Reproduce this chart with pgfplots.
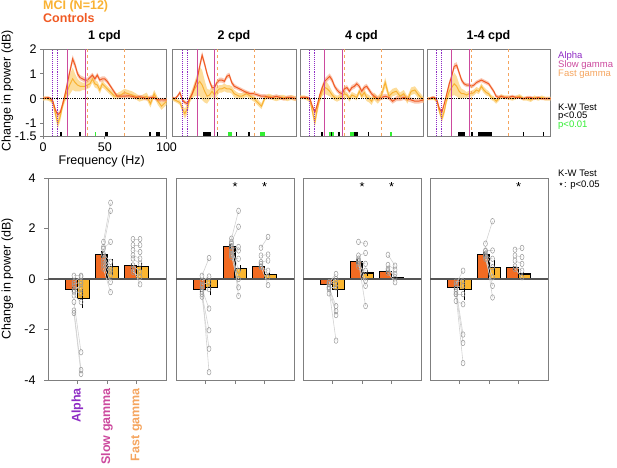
\documentclass[border=0pt]{standalone}
\usepackage{fontspec}
\setmainfont{Liberation Sans}
\newfontfamily\djv{DejaVu Sans}
\usepackage{pgfplots}
\pgfplotsset{compat=1.18}
\usepackage{pgfplotstable}
\usepgfplotslibrary{fillbetween}

\definecolor{ctrl}{HTML}{F05A24}
\definecolor{mci}{HTML}{F9B233}
\definecolor{ctrlband}{HTML}{F7A27E}
\definecolor{mciband}{HTML}{FCD27A}
\definecolor{ctrlbar}{HTML}{F26B22}
\definecolor{mcibar}{HTML}{FBB630}
\definecolor{cAlpha}{HTML}{8E2BC4}
\definecolor{cSlow}{HTML}{CC4A9E}
\definecolor{cFast}{HTML}{F5A55F}
\definecolor{sigg}{HTML}{33EE33}
\definecolor{axgray}{HTML}{7F7F7F}
\definecolor{zerol}{HTML}{555555}
\definecolor{pairl}{HTML}{D2D2D2}
\definecolor{circ}{HTML}{999999}

% frequency (Hz), controls mean, controls sem, MCI mean, MCI sem
\pgfplotstableread{
f c cs m ms
0 0.02 0.05 0.00 0.08
2 0.03 0.05 0.02 0.08
4 0.05 0.05 0.00 0.08
6 0.02 0.05 -0.05 0.08
8 -0.10 0.06 -0.15 0.10
10 -0.45 0.08 -0.60 0.15
12 -0.65 0.10 -1.00 0.20
14 -0.55 0.10 -0.70 0.20
16 -0.20 0.10 -0.25 0.15
18 0.20 0.12 0.10 0.20
20 0.70 0.15 0.35 0.30
22 1.15 0.15 0.60 0.40
24 1.60 0.15 0.80 0.45
26 1.35 0.15 0.65 0.35
28 1.00 0.12 0.55 0.25
30 0.85 0.10 0.50 0.20
32 0.80 0.10 0.50 0.15
34 0.75 0.10 0.50 0.15
36 0.75 0.10 0.55 0.15
38 0.85 0.10 0.60 0.15
40 0.95 0.10 0.80 0.15
42 0.80 0.10 0.60 0.15
44 0.95 0.10 0.55 0.15
46 0.75 0.10 0.35 0.15
48 0.80 0.10 0.60 0.15
50 0.80 0.10 0.50 0.12
52 0.70 0.10 0.40 0.12
54 0.55 0.08 0.30 0.12
56 0.40 0.08 0.20 0.12
58 0.25 0.08 0.10 0.12
60 0.10 0.08 0.10 0.12
63 0.10 0.08 0.15 0.15
66 0.10 0.08 0.25 0.15
69 0.12 0.08 0.20 0.15
72 0.10 0.08 0.15 0.15
75 0.05 0.08 0.10 0.12
78 0.08 0.08 0.00 0.12
81 0.05 0.08 0.05 0.12
84 0.00 0.08 0.10 0.15
87 0.05 0.08 -0.20 0.15
90 0.05 0.08 0.20 0.15
93 -0.05 0.08 -0.10 0.15
96 -0.05 0.08 -0.30 0.15
100 -0.05 0.08 -0.10 0.15
}\tA
\pgfplotstableread{
f c cs m ms
0 0.05 0.05 0.00 0.08
2 0.00 0.05 -0.05 0.08
4 0.10 0.06 -0.10 0.08
6 0.25 0.08 -0.15 0.10
8 -0.05 0.08 -0.40 0.15
10 -0.15 0.08 -0.60 0.20
12 -0.20 0.08 -0.40 0.20
14 0.00 0.08 0.00 0.15
16 0.20 0.10 0.20 0.20
18 0.50 0.10 0.40 0.30
20 0.80 0.12 0.55 0.45
22 1.30 0.15 0.70 0.60
24 1.75 0.15 0.55 0.60
26 1.40 0.12 0.30 0.45
28 1.00 0.10 0.10 0.30
30 0.70 0.10 0.15 0.20
32 0.45 0.10 0.30 0.20
34 0.45 0.10 0.15 0.20
36 0.65 0.10 0.30 0.20
38 0.75 0.10 0.40 0.15
40 0.75 0.10 0.40 0.15
42 0.70 0.10 0.45 0.15
44 0.90 0.10 0.40 0.15
46 0.95 0.10 0.40 0.15
48 0.65 0.10 0.35 0.15
50 0.50 0.10 0.20 0.15
52 0.45 0.08 0.15 0.12
54 0.40 0.08 0.10 0.12
56 0.35 0.08 0.10 0.12
58 0.30 0.08 0.15 0.12
60 0.25 0.08 0.20 0.12
63 0.20 0.08 0.10 0.12
66 0.20 0.08 0.00 0.12
69 0.15 0.08 -0.15 0.12
72 0.10 0.08 -0.30 0.12
75 0.10 0.08 0.05 0.10
78 0.05 0.08 0.10 0.10
81 0.05 0.08 0.05 0.10
84 0.10 0.08 0.00 0.10
87 0.05 0.08 0.05 0.10
90 0.00 0.08 0.05 0.10
93 0.05 0.08 0.00 0.10
96 0.05 0.08 0.05 0.10
100 0.00 0.08 0.00 0.10
}\tB
\pgfplotstableread{
f c cs m ms
0 0.05 0.05 0.05 0.08
2 0.05 0.05 0.05 0.08
4 0.05 0.05 0.05 0.08
6 0.05 0.05 0.00 0.08
8 0.00 0.06 -0.05 0.10
10 -0.30 0.08 -0.50 0.15
12 -0.55 0.10 -0.95 0.20
14 -0.25 0.10 -0.40 0.20
16 0.15 0.10 0.00 0.15
18 0.45 0.12 0.30 0.20
20 0.70 0.12 0.45 0.25
22 0.80 0.12 0.40 0.25
24 0.90 0.12 0.30 0.20
26 0.75 0.12 0.15 0.15
28 0.50 0.10 0.05 0.12
30 0.35 0.10 0.00 0.12
32 0.25 0.10 0.05 0.12
34 0.20 0.10 0.10 0.12
36 0.40 0.10 0.20 0.12
38 0.45 0.10 0.15 0.12
40 0.30 0.10 0.00 0.12
42 0.45 0.10 0.15 0.12
44 0.50 0.10 0.10 0.12
46 0.60 0.10 0.05 0.12
48 0.50 0.10 0.30 0.12
50 0.30 0.10 0.10 0.12
52 0.45 0.10 0.25 0.15
54 0.50 0.10 0.05 0.15
56 0.35 0.10 0.00 0.15
58 0.20 0.10 -0.10 0.15
60 0.10 0.10 0.10 0.15
63 0.00 0.10 -0.05 0.15
66 0.05 0.10 0.15 0.15
69 0.10 0.10 0.65 0.20
72 0.05 0.10 0.10 0.15
75 -0.10 0.10 0.25 0.15
78 0.00 0.10 0.30 0.15
81 0.00 0.10 0.10 0.15
84 0.05 0.10 0.20 0.15
87 0.00 0.10 -0.05 0.15
90 -0.05 0.10 0.30 0.15
93 -0.10 0.10 0.35 0.15
96 -0.10 0.10 0.15 0.15
100 -0.05 0.10 -0.05 0.12
}\tC
\pgfplotstableread{
f c cs m ms
0 0.00 0.05 0.00 0.06
2 0.00 0.05 0.00 0.06
4 0.05 0.05 0.00 0.06
6 0.05 0.05 0.00 0.06
8 -0.05 0.06 -0.10 0.10
10 -0.40 0.08 -0.50 0.12
12 -0.55 0.10 -0.80 0.15
14 -0.20 0.10 -0.50 0.15
16 0.20 0.10 0.00 0.15
18 0.60 0.12 0.30 0.25
20 0.90 0.12 0.45 0.35
22 1.30 0.12 0.60 0.45
24 1.35 0.12 0.50 0.40
26 1.05 0.10 0.30 0.30
28 0.75 0.10 0.20 0.20
30 0.60 0.08 0.20 0.15
32 0.55 0.08 0.15 0.12
34 0.55 0.08 0.20 0.12
36 0.50 0.08 0.20 0.12
38 0.55 0.08 0.25 0.12
40 0.65 0.08 0.35 0.12
42 0.70 0.08 0.30 0.12
44 0.75 0.08 0.50 0.12
46 0.70 0.08 0.35 0.12
48 0.65 0.08 0.25 0.12
50 0.60 0.08 0.20 0.10
52 0.45 0.08 0.05 0.10
54 0.30 0.08 0.00 0.10
56 0.10 0.08 -0.10 0.10
58 0.05 0.08 0.00 0.10
60 0.10 0.06 0.10 0.08
63 0.05 0.06 0.05 0.08
66 0.05 0.06 0.05 0.08
69 0.10 0.06 0.00 0.08
72 0.05 0.06 0.05 0.08
75 0.05 0.06 0.10 0.08
78 0.00 0.06 0.00 0.08
81 0.05 0.06 0.00 0.08
84 0.05 0.06 -0.05 0.08
87 0.00 0.06 0.05 0.08
90 0.05 0.06 0.00 0.08
93 0.00 0.06 0.05 0.08
96 0.00 0.06 0.00 0.08
100 0.00 0.06 0.00 0.08
}\tD

% bars: band (1 alpha, 2 slow, 3 fast), controls mean/sem, MCI mean/sem
\pgfplotstableread{
g o oe y ye
1 -0.40 0.10 -0.77 0.38
2 0.97 0.13 0.49 0.32
3 0.52 0.13 0.49 0.15
}\bA
\pgfplotstableread{
g o oe y ye
1 -0.40 0.10 -0.35 0.30
2 1.29 0.09 0.43 0.12
3 0.49 0.11 0.17 0.05
}\bB
\pgfplotstableread{
g o oe y ye
1 -0.23 0.10 -0.43 0.30
2 0.69 0.10 0.24 0.13
3 0.29 0.08 0.04 0.03
}\bC
\pgfplotstableread{
g o oe y ye
1 -0.33 0.10 -0.40 0.45
2 0.97 0.10 0.47 0.30
3 0.44 0.09 0.20 0.07
}\bD

% individual values: band, controls (l), MCI (r)
\pgfplotstableread{
g l r
1 0.13 0.13
1 -0.12 0.10
1 -0.20 -0.12
1 -0.30 -0.38
1 -0.45 -0.58
1 -0.65 -0.91
1 -0.91 -2.90
1 -1.25 -3.60
1 -1.35 -3.76
1 -0.50 -0.20
2 1.47 3.02
2 1.27 2.70
2 1.20 1.47
2 1.00 0.68
2 0.94 0.41
2 0.80 0.30
2 0.68 0.15
2 0.55 -0.12
2 0.41 -0.52
3 1.58 1.58
3 1.34 1.34
3 1.14 1.07
3 0.94 0.81
3 0.81 0.61
3 0.54 0.28
3 0.28 0.08
3 0.40 -0.21
}\pA
\pgfplotstableread{
g l r
1 0.13 0.83
1 -0.07 0.10
1 -0.23 -0.13
1 -0.40 -1.17
1 -0.60 -2.03
1 -0.70 -2.76
1 -0.30 -3.69
1 -0.50 -0.40
2 1.60 2.70
2 1.47 2.07
2 1.20 1.27
2 1.00 1.13
2 0.87 0.80
2 1.30 0.33
2 1.10 0.00
2 0.95 -0.33
2 1.40 -0.67
3 1.24 1.67
3 0.93 0.97
3 0.67 0.73
3 0.47 0.33
3 0.60 0.07
3 0.50 -0.24
}\pB
\pgfplotstableread{
g l r
1 -0.13 0.20
1 -0.20 0.00
1 -0.13 -0.20
1 -0.33 -0.33
1 -0.33 -1.07
1 -0.57 -1.27
1 -0.20 -1.43
1 -0.40 -2.44
2 1.47 1.40
2 0.93 1.03
2 0.73 0.60
2 0.49 0.33
2 0.80 -0.07
2 0.60 -0.27
2 0.70 -1.07
3 0.96 0.53
3 0.56 0.37
3 0.33 0.20
3 0.40 0.07
3 0.25 -0.13
}\pC
\pgfplotstableread{
g l r
1 -0.20 0.33
1 -0.10 -0.07
1 -0.30 -0.27
1 -0.60 -0.60
1 -0.87 -1.00
1 -0.40 -2.20
1 -0.50 -2.53
1 -0.60 -3.33
2 1.40 2.29
2 1.13 1.13
2 0.93 0.80
2 1.00 0.47
2 0.90 0.07
2 0.80 -0.27
2 1.10 -0.73
3 1.16 1.23
3 0.93 0.87
3 0.73 0.60
3 0.50 0.33
3 0.40 0.07
}\pD

\pgfplotsset{
  topax/.style={scale only axis, width=123.5pt, height=87pt, anchor=south west,
    xmin=0, xmax=100, ymin=-1.5, ymax=2,
    axis line style={draw=axgray, line width=0.9pt},
    tick align=outside, tick pos=left, major tick length=3pt,
    tick style={axgray, line width=0.8pt},
    ticklabel style={font=\fontsize{12.5}{14}\selectfont},
    unbounded coords=jump, xtick=\empty, ytick=\empty},
  botax/.style={scale only axis, width=118pt, height=202pt, anchor=south west,
    xmin=0, xmax=4, ymin=-4, ymax=4,
    axis line style={draw=axgray, line width=0.9pt},
    tick align=outside, tick pos=left, major tick length=4pt,
    tick style={axgray, line width=0.8pt},
    ticklabel style={font=\fontsize{12.5}{14}\selectfont},
    xtick={1,2,3}, xticklabels={,,}, ytick=\empty},
  sig/.style={line width=3.7pt},
}

\newcommand{\curves}[1]{%
  \addplot[draw=none, name path=mu] table[x=f, y expr=\thisrow{m}+\thisrow{ms}] {#1};
  \addplot[draw=none, name path=ml] table[x=f, y expr=\thisrow{m}-\thisrow{ms}] {#1};
  \addplot[fill=mciband, fill opacity=0.75, draw=none] fill between[of=mu and ml];
  \addplot[draw=none, name path=cu] table[x=f, y expr=\thisrow{c}+\thisrow{cs}] {#1};
  \addplot[draw=none, name path=cl] table[x=f, y expr=\thisrow{c}-\thisrow{cs}] {#1};
  \addplot[fill=ctrlband, fill opacity=0.6, draw=none] fill between[of=cu and cl];
  \addplot[mci, line width=1pt] table[x=f, y=m] {#1};
  \addplot[ctrl, line width=1pt] table[x=f, y=c] {#1};
  \addplot[draw=cAlpha, densely dotted, line width=0.9pt] coordinates {(8,-1.5) (8,2)};
  \addplot[draw=cAlpha, densely dotted, line width=0.9pt] coordinates {(12,-1.5) (12,2)};
  \addplot[draw=cSlow, line width=0.9pt] coordinates {(20,-1.5) (20,2)};
  \addplot[draw=cSlow, line width=0.9pt] coordinates {(34,-1.5) (34,2)};
  \addplot[draw=cFast, dashed, line width=0.9pt] coordinates {(36,-1.5) (36,2)};
  \addplot[draw=cFast, dashed, line width=0.9pt] coordinates {(66,-1.5) (66,2)};
  \addplot[black, densely dotted, line width=0.8pt] coordinates {(0,0) (100,0)};
}

\newcommand{\bars}[2]{%
  \addplot[ybar, bar width=0.4, bar shift=0pt, fill=ctrlbar, draw=black, line width=1.1pt] table[x expr=\thisrow{g}-0.2, y=o] {#1};
  \addplot[ybar, bar width=0.4, bar shift=0pt, fill=mcibar, draw=black, line width=1.1pt] table[x expr=\thisrow{g}+0.2, y=y] {#1};
  \addplot[zerol, line width=1.1pt] coordinates {(0,0) (4,0)};
  \addplot[pairl, line width=0.6pt, quiver={u=0.24, v=\thisrow{r}-\thisrow{l}}] table[x expr=\thisrow{g}-0.12, y=l] {#2};
  \addplot[only marks, mark=o, mark size=2.8pt, mark options={circ, xscale=0.7, line width=0.5pt}] table[x expr=\thisrow{g}-0.12, y=l] {#2};
  \addplot[only marks, mark=o, mark size=2.8pt, mark options={circ, xscale=0.7, line width=0.5pt}] table[x expr=\thisrow{g}+0.12, y=r] {#2};
  \addplot[black, line width=1.3pt, quiver={u=0, v=2*\thisrow{oe}}] table[x expr=\thisrow{g}-0.17, y expr=\thisrow{o}-\thisrow{oe}] {#1};
  \addplot[black, line width=1.3pt, quiver={u=0, v=2*\thisrow{ye}}] table[x expr=\thisrow{g}+0.18, y expr=\thisrow{y}-\thisrow{ye}] {#1};
}

\begin{document}
\begin{tikzpicture}
\def\fs{\fontsize{12.5}{14}\selectfont}
\def\ls{\fontsize{9.5}{10}\selectfont}

% ---------- top row ----------
\begin{axis}[topax, at={(43pt,331pt)},
  xtick={0,50,100}, xticklabels={0,50,100},
  ytick={-1.5,-1,0,1,2}, yticklabels={-1.5,-1,0,1,2}]
\curves{\tA}
\addplot[black, sig] coordinates {(13.8,-1.42) (15.3,-1.42) (15.3,nan) (29.5,-1.42) (30.9,-1.42) (30.9,nan) (50,-1.42) (53,-1.42) (53,nan) (86,-1.42) (87.3,-1.42) (87.3,nan) (91.5,-1.42) (94.6,-1.42)};
\addplot[sigg, sig] coordinates {(42,-1.42) (43.3,-1.42)};
\end{axis}

\begin{axis}[topax, at={(172.5pt,331pt)}]
\curves{\tB}
\addplot[black, sig] coordinates {(25,-1.42) (31,-1.42) (31,nan) (35.7,-1.42) (36.8,-1.42) (36.8,nan) (51.4,-1.42) (52.5,-1.42) (52.5,nan) (61.4,-1.42) (62.5,-1.42)};
\addplot[sigg, sig] coordinates {(45,-1.42) (48.4,-1.42) (48.4,nan) (71,-1.42) (74.6,-1.42)};
\end{axis}

\begin{axis}[topax, at={(300pt,331pt)}]
\curves{\tC}
\addplot[black, sig] coordinates {(17,-1.42) (18.4,-1.42) (18.4,nan) (24.9,-1.42) (25.7,-1.42) (25.7,nan) (30.5,-1.42) (32.2,-1.42) (32.2,nan) (44,-1.42) (46.8,-1.42) (46.8,nan) (55,-1.42) (56.2,-1.42)};
\addplot[sigg, sig] coordinates {(23.2,-1.42) (24.9,-1.42) (24.9,nan) (25.7,-1.42) (27.3,-1.42) (27.3,nan) (40.8,-1.42) (44,-1.42) (44,nan) (73.2,-1.42) (74.3,-1.42)};
\end{axis}

\begin{axis}[topax, at={(427pt,331pt)}]
\curves{\tD}
\addplot[black, sig] coordinates {(25.4,-1.42) (30.8,-1.42) (30.8,nan) (36,-1.42) (37,-1.42) (37,nan) (41.4,-1.42) (53,-1.42) (53,nan) (77.6,-1.42) (78.7,-1.42) (78.7,nan) (93.8,-1.42) (94.9,-1.42)};
\end{axis}

% ---------- bottom row ----------
\begin{axis}[botax, at={(48pt,87pt)},
  ytick={-4,-2,0,2,4}, yticklabels={-4,-2,0,2,4}, yticklabel style={xshift=-5pt}]
\bars{\bA}{\pA}
\end{axis}

\begin{axis}[botax, at={(176pt,87pt)}]
\bars{\bB}{\pB}
\addplot[only marks, mark=star, mark size=2.3pt, black, line width=0.6pt] coordinates {(2,3.75) (3,3.75)};
\end{axis}

\begin{axis}[botax, at={(303pt,87pt)}]
\bars{\bC}{\pC}
\addplot[only marks, mark=star, mark size=2.3pt, black, line width=0.6pt] coordinates {(2,3.75) (3,3.75)};
\end{axis}

\begin{axis}[botax, at={(430pt,87pt)}]
\bars{\bD}{\pD}
\addplot[only marks, mark=star, mark size=2.3pt, black, line width=0.6pt] coordinates {(3,3.75)};
\end{axis}

% ---------- texts ----------
\node[anchor=base west, inner sep=0, font=\bfseries\fs, text=mci] at (43pt,457.7pt) {MCI (N=12)};
\node[anchor=base west, inner sep=0, font=\bfseries\fs, text=ctrl] at (43pt,444.3pt) {Controls};
\node[anchor=base, inner sep=0, font=\bfseries\fs] at (104.5pt,427.7pt) {1 cpd};
\node[anchor=base, inner sep=0, font=\bfseries\fs] at (234pt,427.7pt) {2 cpd};
\node[anchor=base, inner sep=0, font=\bfseries\fs] at (361.5pt,427.7pt) {4 cpd};
\node[anchor=base, inner sep=0, font=\bfseries\fs] at (488.5pt,427.7pt) {1-4 cpd};
\node[anchor=base, inner sep=0, font=\fs] at (101.7pt,302.5pt) {Frequency (Hz)};
\node[anchor=base, rotate=90, inner sep=0, font=\fs] at (10.7pt,376pt) {Change in power (dB)};
\node[anchor=base, rotate=90, inner sep=0, font=\fs] at (10.7pt,188pt) {Change in power (dB)};

\node[anchor=base west, inner sep=0, font=\ls, text=cAlpha] at (558pt,408pt) {Alpha};
\node[anchor=base west, inner sep=0, font=\ls, text=cSlow] at (558pt,399.5pt) {Slow gamma};
\node[anchor=base west, inner sep=0, font=\ls, text=cFast] at (558pt,391pt) {Fast gamma};
\node[anchor=base west, inner sep=0, font=\ls] at (558pt,356.5pt) {K-W Test};
\node[anchor=base west, inner sep=0, font=\ls] at (558pt,348.5pt) {p<0.05};
\node[anchor=base west, inner sep=0, font=\ls, text=sigg] at (558pt,340pt) {p<0.01};
\node[anchor=base west, inner sep=0, font=\ls] at (558pt,290.5pt) {K-W Test};
\node[anchor=base west, inner sep=0, font=\ls] at (558pt,280pt) {{\djv ⋆}: p<0.05};

\node[anchor=east, rotate=90, inner sep=0, font=\bfseries\fs, text=cAlpha] at (77.5pt,79pt) {Alpha};
\node[anchor=east, rotate=90, inner sep=0, font=\bfseries\fs, text=cSlow] at (107pt,79pt) {Slow gamma};
\node[anchor=east, rotate=90, inner sep=0, font=\bfseries\fs, text=cFast] at (136.5pt,79pt) {Fast gamma};

\pgfresetboundingbox
\path[use as bounding box] (0,0) rectangle (617pt,467pt);
\end{tikzpicture}
\end{document}
